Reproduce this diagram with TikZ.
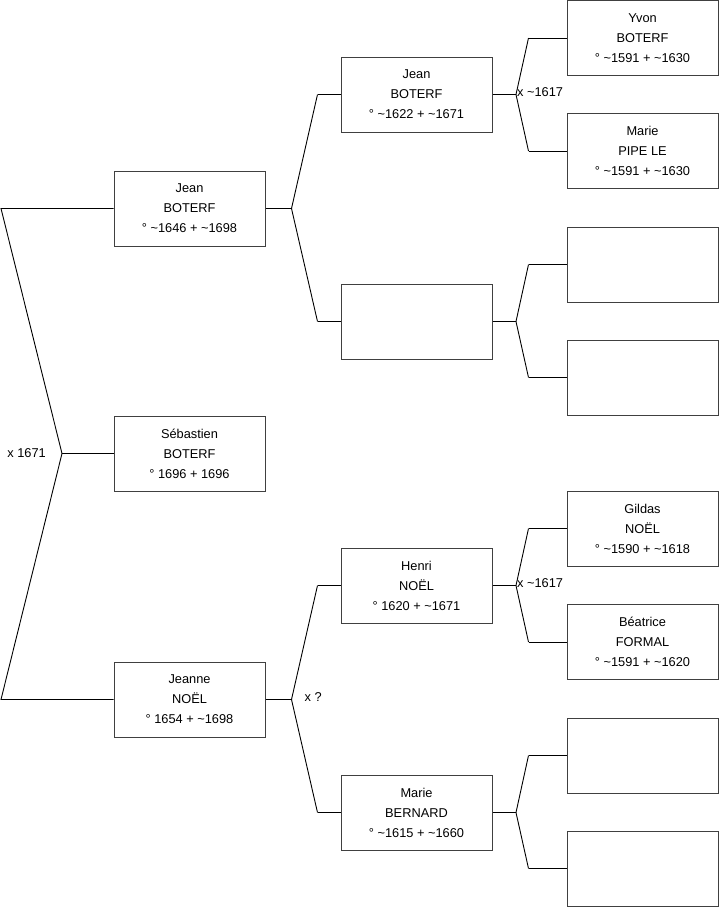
\documentclass[tikz,border=0pt]{standalone}
\usepackage{fontspec}
\setmainfont{Liberation Sans}
\tikzset{
  person/.style={draw=black!75, line width=1pt, minimum width=151pt, minimum height=75pt,
    inner sep=0pt, align=center, font=\fontsize{12.8}{20}\selectfont},
  link/.style={line width=0.9pt},
  union/.style={font=\fontsize{12.8}{15}\selectfont, inner sep=1pt}
}
\newcommand{\ca}{\textasciitilde}

\begin{document}
\begin{tikzpicture}[x=1pt,y=-1pt]
  \useasboundingbox (0,0) rectangle (719,908);
  % generation 1
  \node[person] (s2) at (189.5,208.5) {Jean\\BOTERF\\° \ca1646 + \ca1698};
  \node[person] (s1) at (189.5,453.5) {Sébastien\\BOTERF\\° 1696 + 1696};
  \node[person] (s3) at (189.5,699.5) {Jeanne\\NOËL\\° 1654 + \ca1698};
  % generation 2
  \node[person] (s4) at (416.5,94.5) {Jean\\BOTERF\\° \ca1622 + \ca1671};
  \node[person] (s5) at (416.5,321.5) {};
  \node[person] (s6) at (416.5,585.5) {Henri\\NOËL\\° 1620 + \ca1671};
  \node[person] (s7) at (416.5,812.5) {Marie\\BERNARD\\° \ca1615 + \ca1660};
  % generation 3
  \node[person] (s8) at (642.5,38) {Yvon\\BOTERF\\° \ca1591 + \ca1630};
  \node[person] (s9) at (642.5,151) {Marie\\PIPE LE\\° \ca1591 + \ca1630};
  \node[person] (s10) at (642.5,264.5) {};
  \node[person] (s11) at (642.5,377.5) {};
  \node[person] (s12) at (642.5,528.5) {Gildas\\NOËL\\° \ca1590 + \ca1618};
  \node[person] (s13) at (642.5,642) {Béatrice\\FORMAL\\° \ca1591 + \ca1620};
  \node[person] (s14) at (642.5,755.5) {};
  \node[person] (s15) at (642.5,868.5) {};

  % forks
  \coordinate (c1) at (62,453.5);
  \coordinate (c2) at ([xshift=26pt]s2.east);
  \coordinate (c3) at ([xshift=26pt]s3.east);
  \coordinate (c4) at ([xshift=23.5pt]s4.east);
  \coordinate (c5) at ([xshift=23.5pt]s5.east);
  \coordinate (c6) at ([xshift=23.5pt]s6.east);
  \coordinate (c7) at ([xshift=23.5pt]s7.east);

  \draw[link] (s2.west) -- (1,208.5) -- (c1) -- (1,699.5) -- (s3.west);
  \draw[link] (c1) -- (s1.west);
  \node[union, anchor=east] (u1) at ([xshift=-15pt]c1) {x 1671};

  \draw[link] (s2.east) -- (c2);
  \draw[link] ([xshift=-23pt]s4.west) -- (c2) -- ([xshift=-23pt]s5.west);
  \draw[link] ([xshift=-23pt]s4.west) -- (s4.west);
  \draw[link] ([xshift=-23pt]s5.west) -- (s5.west);

  \draw[link] (s3.east) -- (c3);
  \draw[link] ([xshift=-23pt]s6.west) -- (c3) -- ([xshift=-23pt]s7.west);
  \draw[link] ([xshift=-23pt]s6.west) -- (s6.west);
  \draw[link] ([xshift=-23pt]s7.west) -- (s7.west);
  \node[union, anchor=west] (u3) at ([xshift=12pt,yshift=2pt]c3) {x ?};

  \draw[link] (s4.east) -- (c4);
  \draw[link] ([xshift=-38pt]s8.west) -- (c4) -- ([xshift=-38pt]s9.west);
  \draw[link] ([xshift=-38pt]s8.west) -- (s8.west);
  \draw[link] ([xshift=-38pt]s9.west) -- (s9.west);
  \node[union, anchor=west] (u4) at ([xshift=0pt,yshift=2pt]c4) {x \ca1617};

  \draw[link] (s5.east) -- (c5);
  \draw[link] ([xshift=-38pt]s10.west) -- (c5) -- ([xshift=-38pt]s11.west);
  \draw[link] ([xshift=-38pt]s10.west) -- (s10.west);
  \draw[link] ([xshift=-38pt]s11.west) -- (s11.west);

  \draw[link] (s6.east) -- (c6);
  \draw[link] ([xshift=-38pt]s12.west) -- (c6) -- ([xshift=-38pt]s13.west);
  \draw[link] ([xshift=-38pt]s12.west) -- (s12.west);
  \draw[link] ([xshift=-38pt]s13.west) -- (s13.west);
  \node[union, anchor=west] (u6) at ([xshift=0pt,yshift=2pt]c6) {x \ca1617};

  \draw[link] (s7.east) -- (c7);
  \draw[link] ([xshift=-38pt]s14.west) -- (c7) -- ([xshift=-38pt]s15.west);
  \draw[link] ([xshift=-38pt]s14.west) -- (s14.west);
  \draw[link] ([xshift=-38pt]s15.west) -- (s15.west);
\end{tikzpicture}
\end{document}
